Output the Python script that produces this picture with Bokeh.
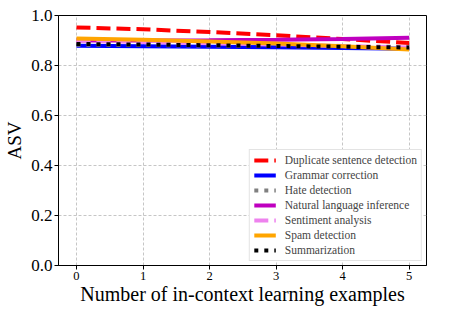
from bokeh.plotting import figure
from bokeh.embed import file_html
from bokeh.resources import INLINE
from bokeh.models import Range1d, FixedTicker, Legend, LegendItem, CustomJSTickFormatter

x = [0, 1, 2, 3, 4, 5]
duplicate = [0.952, 0.945, 0.934, 0.921, 0.906, 0.890]
grammar = [0.879, 0.877, 0.875, 0.873, 0.870, 0.867]
hate = [0.883, 0.882, 0.880, 0.878, 0.876, 0.874]
nli = [0.900, 0.900, 0.901, 0.903, 0.906, 0.911]
sentiment = [0.898, 0.894, 0.889, 0.884, 0.878, 0.872]
spam = [0.908, 0.903, 0.896, 0.888, 0.877, 0.864]
summarization = [0.886, 0.884, 0.881, 0.878, 0.875, 0.872]

names = ["Duplicate sentence detection", "Grammar correction", "Hate detection",
         "Natural language inference", "Sentiment analysis", "Spam detection",
         "Summarization"]
series = [duplicate, grammar, hate, nli, sentiment, spam, summarization]
colors = ["#ff0000", "#0000ff", "#808080", "#bf00bf", "#ee82ee", "#ffa500", "#000000"]
dashes = ["14 6", "solid", "4 6", "solid", "14 6", "solid", "4 6"]
yticks = [0.0, 0.2, 0.4, 0.6, 0.8, 1.0]

FONT = "Liberation Serif"

p = figure(width=449, height=316, output_backend="svg", toolbar_location=None,
           x_range=Range1d(-0.27, 5.26), y_range=Range1d(0, 1.0),
           min_border_left=58, min_border_right=23, min_border_top=15, min_border_bottom=51)

items = []
for name, ys, c, d in zip(names, series, colors, dashes):
    r = p.line(x, ys, line_color=c, line_width=4, line_dash=d)
    items.append(LegendItem(label=name, renderers=[r]))

legend = Legend(items=items, location="bottom_right")
legend.label_text_font = FONT
legend.label_text_font_size = "11.5px"
legend.glyph_width = 22
legend.glyph_height = 12
legend.label_height = 12
legend.spacing = 3
legend.padding = 4
legend.margin = 4
legend.label_standoff = 9
legend.border_line_color = "#c8c8c8"
legend.border_line_width = 1
legend.background_fill_alpha = 1.0
p.add_layout(legend)

p.xaxis.ticker = FixedTicker(ticks=x)
p.yaxis.ticker = FixedTicker(ticks=yticks)
p.yaxis.formatter = CustomJSTickFormatter(code="return tick.toFixed(1);")

for ax in [p.xaxis[0], p.yaxis[0]]:
    ax.axis_label_text_font = FONT
    ax.major_label_text_font = FONT
    ax.axis_label_text_font_style = "normal"
    ax.major_tick_in = 0
    ax.major_tick_out = 4
    ax.minor_tick_in = 0
    ax.minor_tick_out = 0
    ax.axis_line_color = "black"
    ax.major_tick_line_color = "black"
    ax.major_label_text_color = "black"
    ax.axis_label_text_color = "black"

p.xaxis.axis_label = "Number of in-context learning examples"
p.xaxis.axis_label_text_font_size = "20px"
p.xaxis.major_label_text_font_size = "12.5px"
p.xaxis.major_label_standoff = 2
p.xaxis.axis_label_standoff = 0

p.yaxis.axis_label = "ASV"
p.yaxis.axis_label_text_font_size = "19px"
p.yaxis.major_label_text_font_size = "17px"
p.yaxis.major_label_standoff = 2
p.yaxis.axis_label_standoff = 3

p.grid.grid_line_color = "#b8b8b8"
p.grid.grid_line_dash = "3 2"
p.grid.grid_line_width = 0.8
p.outline_line_color = "black"
p.outline_line_width = 1

open("out.html", "w").write(file_html(p, INLINE))
